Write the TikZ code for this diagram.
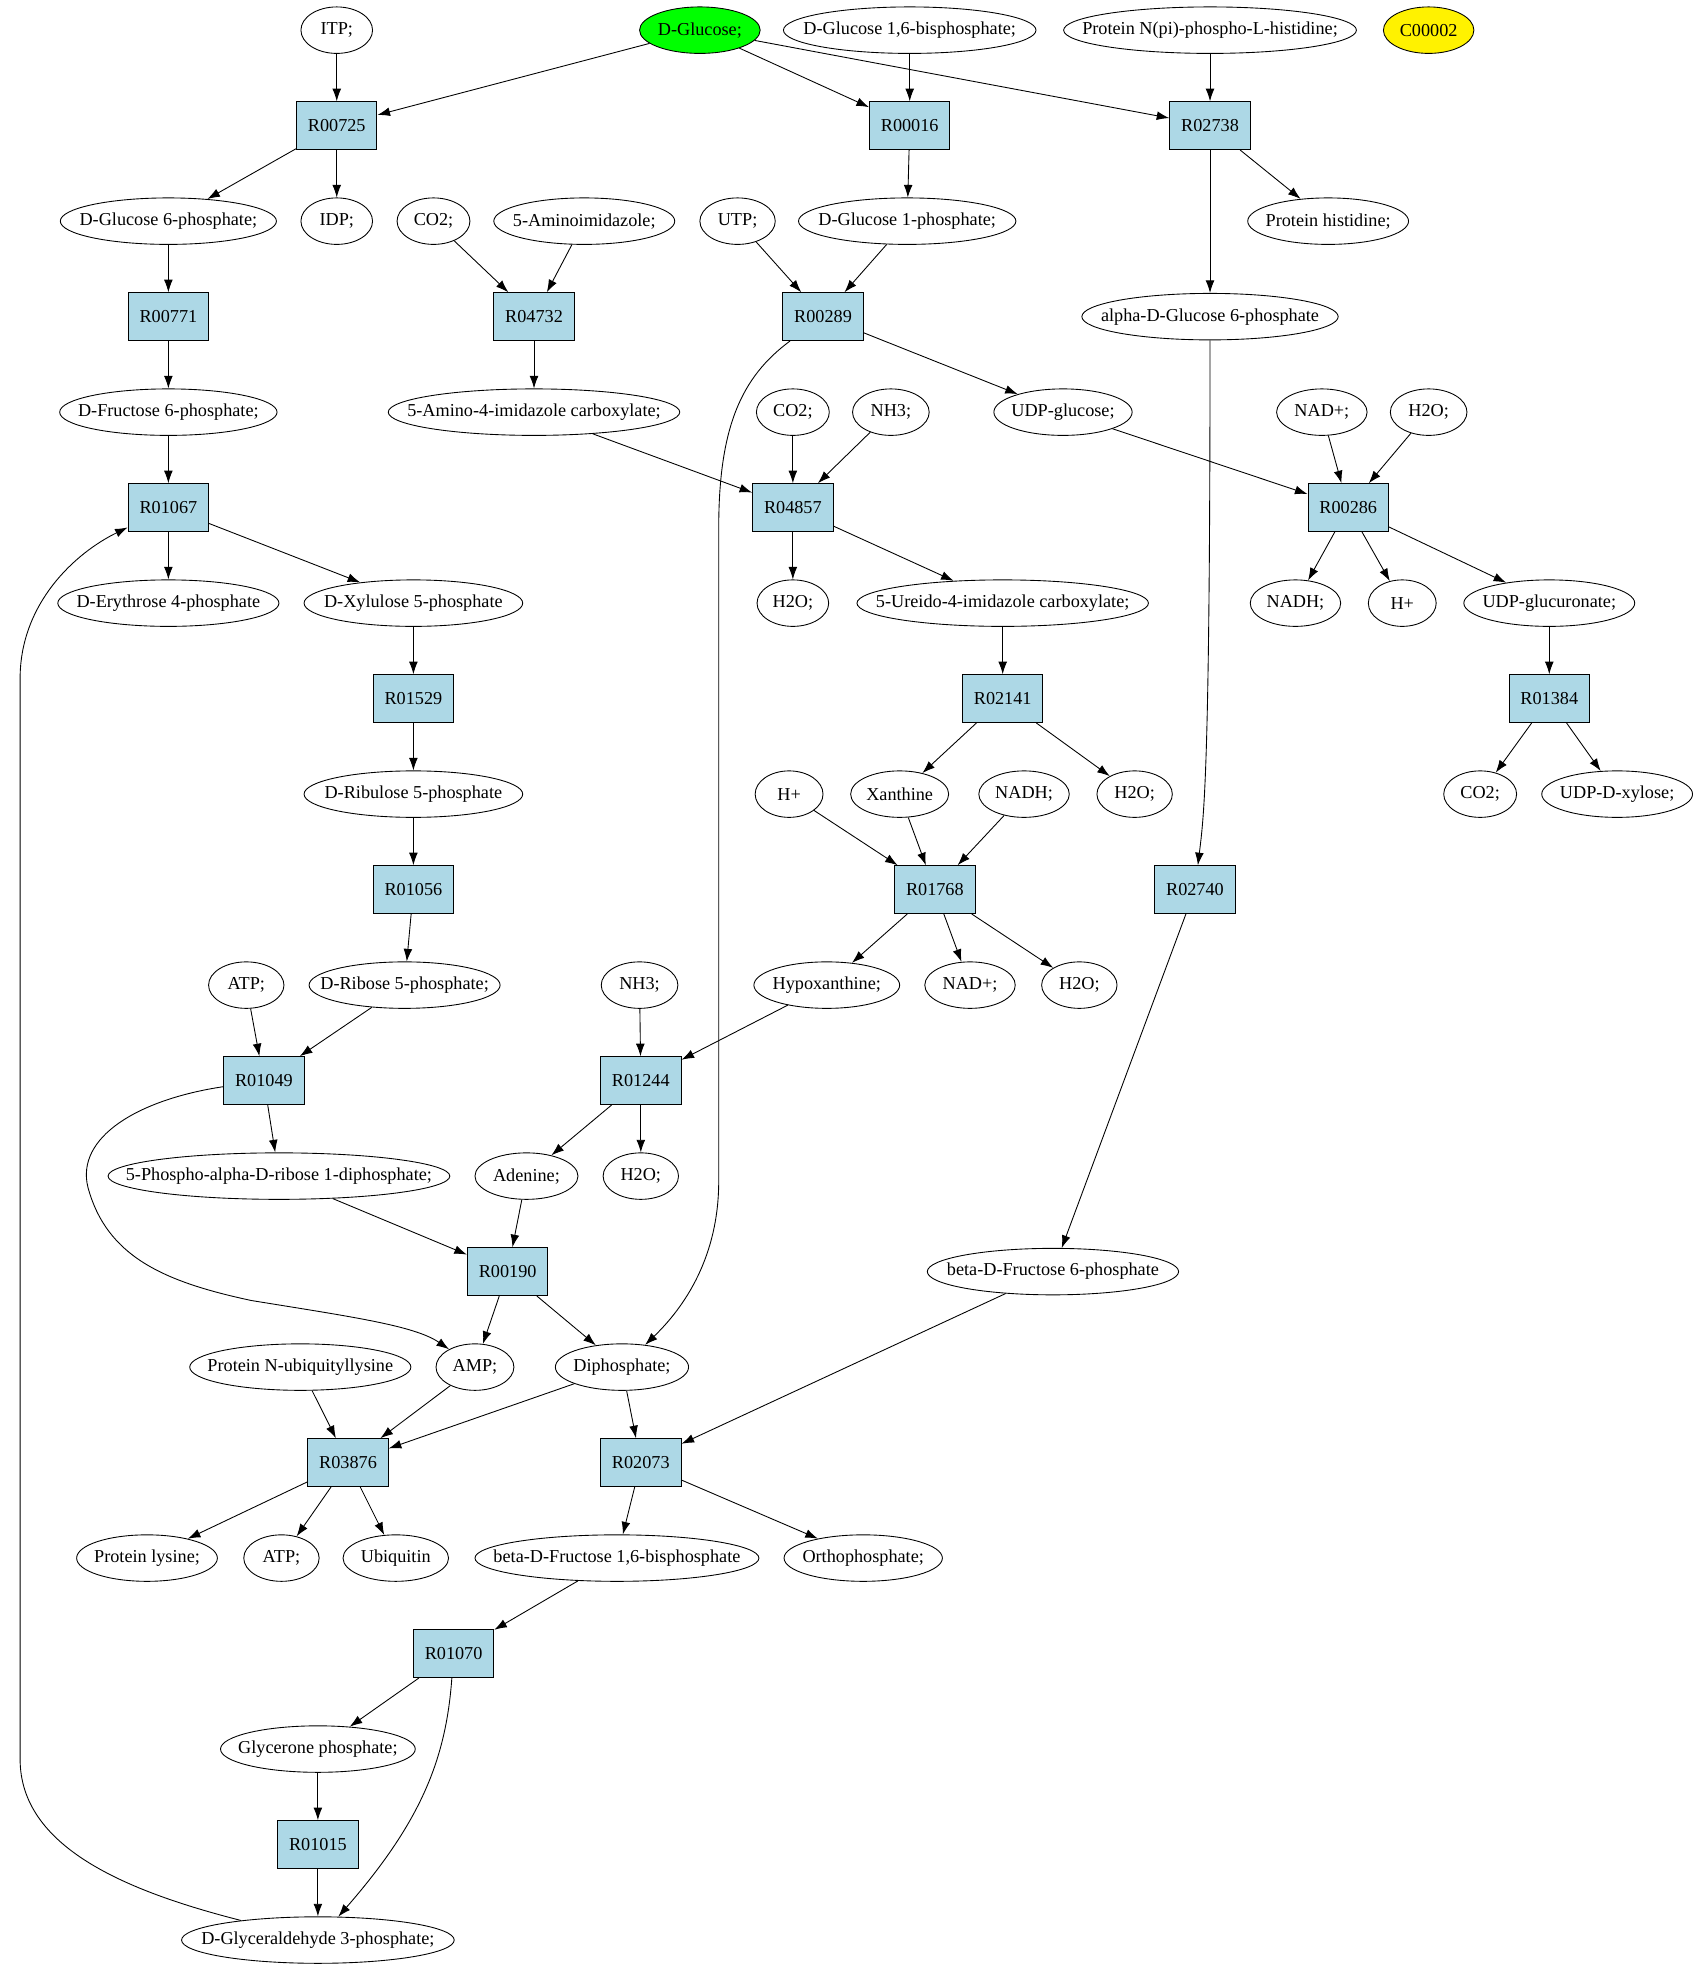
\documentclass[tikz,border=0pt]{standalone}
\usepackage{fontspec}
\setmainfont{Liberation Serif}
\usetikzlibrary{arrows.meta, shapes.geometric}
\definecolor{rxnblue}{RGB}{173, 216, 230}
\tikzset{>={Latex[length=10pt, width=7pt]}}
\tikzset{rxn/.style = {draw, fill = rxnblue, line width = 0.8, minimum width = 64, minimum height = 38, inner sep = 0, font = \fontsize{14.5}{17}\selectfont},
cpd/.style = {draw, ellipse, line width = 0.7, minimum height = 37, inner xsep = -200pt, inner ysep = 0, font = \fontsize{14.5}{17}\selectfont}}
\begin{document}
\begin{tikzpicture}[x = 1pt, y = -1pt]
\useasboundingbox (0, 0) rectangle (1357, 1575);
% row 1
\node[cpd, minimum width = 57] (itp) at (268, 24) {ITP;};
\node[cpd, minimum width = 96, fill = green] (glc) at (557, 24) {D-Glucose;};
\node[cpd, minimum width = 201] (glcbp) at (724, 24) {D-Glucose 1,6-bisphosphate;};
\node[cpd, minimum width = 233] (phis) at (963, 24) {Protein N(pi)-phospho-L-histidine;};
\node[cpd, minimum width = 72, fill = yellow] (cmark) at (1137, 24) {C00002};
\node[rxn] (r00725) at (268, 100) {R00725};
\node[rxn] (r00016) at (724, 100) {R00016};
\node[rxn] (r02738) at (963, 100) {R02738};
% row 2
\node[cpd, minimum width = 172] (g6p) at (134, 176) {D-Glucose 6-phosphate;};
\node[cpd, minimum width = 57] (idp) at (268, 176) {IDP;};
\node[cpd, minimum width = 58] (co2a) at (345, 176) {CO2;};
\node[cpd, minimum width = 144] (aimid) at (465, 176) {5-Aminoimidazole;};
\node[cpd, minimum width = 60] (utp) at (587, 176) {UTP;};
\node[cpd, minimum width = 173] (g1p) at (722, 176) {D-Glucose 1-phosphate;};
\node[cpd, minimum width = 128] (prohis) at (1057, 176) {Protein histidine;};
\node[rxn] (r00771) at (134, 252) {R00771};
\node[rxn] (r04732) at (425, 252) {R04732};
\node[rxn] (r00289) at (655, 252) {R00289};
\node[cpd, minimum width = 204] (ag6p) at (963, 252) {alpha-D-Glucose 6-phosphate};
% row 3
\node[cpd, minimum width = 173] (f6p) at (134, 328) {D-Fructose 6-phosphate;};
\node[cpd, minimum width = 232] (aicarb) at (425, 328) {5-Amino-4-imidazole carboxylate;};
\node[cpd, minimum width = 58] (co2b) at (631, 328) {CO2;};
\node[cpd, minimum width = 61] (nh3a) at (709, 328) {NH3;};
\node[cpd, minimum width = 110] (udpglc) at (846, 328) {UDP-glucose;};
\node[cpd, minimum width = 72] (nada) at (1052, 328) {NAD+;};
\node[cpd, minimum width = 61] (h2oa) at (1137, 328) {H2O;};
\node[rxn] (r01067) at (134, 404) {R01067};
\node[rxn] (r04857) at (631, 404) {R04857};
\node[rxn] (r00286) at (1073, 404) {R00286};
% row 4
\node[cpd, minimum width = 176] (e4p) at (134, 480) {D-Erythrose 4-phosphate};
\node[cpd, minimum width = 174] (xu5p) at (329, 480) {D-Xylulose 5-phosphate};
\node[cpd, minimum width = 57] (h2ob) at (631, 480) {H2O;};
\node[cpd, minimum width = 232] (ureido) at (798, 480) {5-Ureido-4-imidazole carboxylate;};
\node[cpd, minimum width = 72] (nadha) at (1031, 480) {NADH;};
\node[cpd, minimum width = 54] (hpa) at (1116, 480) {H+};
\node[cpd, minimum width = 136] (udpgca) at (1233, 480) {UDP-glucuronate;};
\node[rxn] (r01529) at (329, 556) {R01529};
\node[rxn] (r02141) at (798, 556) {R02141};
\node[rxn] (r01384) at (1233, 556) {R01384};
% row 5
\node[cpd, minimum width = 174] (ru5p) at (329, 632) {D-Ribulose 5-phosphate};
\node[cpd, minimum width = 54] (hpb) at (628, 632) {H+};
\node[cpd, minimum width = 78] (xan) at (716, 632) {Xanthine};
\node[cpd, minimum width = 72] (nadhb) at (815, 632) {NADH;};
\node[cpd, minimum width = 60] (h2oc) at (903, 632) {H2O;};
\node[cpd, minimum width = 58] (co2c) at (1178, 632) {CO2;};
\node[cpd, minimum width = 120] (udpxyl) at (1287, 632) {UDP-D-xylose;};
\node[rxn] (r01056) at (329, 708) {R01056};
\node[rxn] (r01768) at (744, 708) {R01768};
\node[rxn] (r02740) at (951, 708) {R02740};
% row 6
\node[cpd, minimum width = 60] (atpa) at (196, 784) {ATP;};
\node[cpd, minimum width = 152] (r5p) at (322, 784) {D-Ribose 5-phosphate;};
\node[cpd, minimum width = 61] (nh3b) at (509, 784) {NH3;};
\node[cpd, minimum width = 116] (hypox) at (658, 784) {Hypoxanthine;};
\node[cpd, minimum width = 72] (nadb) at (772, 784) {NAD+;};
\node[cpd, minimum width = 60] (h2od) at (859, 784) {H2O;};
\node[rxn] (r01049) at (210, 860) {R01049};
\node[rxn] (r01244) at (510, 860) {R01244};
% row 7
\node[cpd, minimum width = 272] (prpp) at (222, 936) {5-Phospho-alpha-D-ribose 1-diphosphate;};
\node[cpd, minimum width = 82] (ade) at (419, 936) {Adenine;};
\node[cpd, minimum width = 60] (h2oe) at (510, 936) {H2O;};
\node[rxn] (r00190) at (404, 1012) {R00190};
\node[cpd, minimum width = 200] (bf6p) at (838, 1012) {beta-D-Fructose 6-phosphate};
% row 8
\node[cpd, minimum width = 176] (ubilys) at (239, 1088) {Protein N-ubiquityllysine};
\node[cpd, minimum width = 62] (amp) at (378, 1088) {AMP;};
\node[cpd, minimum width = 106] (ppi) at (495, 1088) {Diphosphate;};
\node[rxn] (r03876) at (277, 1164) {R03876};
\node[rxn] (r02073) at (510, 1164) {R02073};
% row 9
\node[cpd, minimum width = 112] (lys) at (117, 1240) {Protein lysine;};
\node[cpd, minimum width = 60] (atpb) at (224, 1240) {ATP;};
\node[cpd, minimum width = 84] (ubq) at (315, 1240) {Ubiquitin};
\node[cpd, minimum width = 226] (fbp) at (491, 1240) {beta-D-Fructose 1,6-bisphosphate};
\node[cpd, minimum width = 126] (pi) at (687, 1240) {Orthophosphate;};
\node[rxn] (r01070) at (361, 1316) {R01070};
\node[cpd, minimum width = 155] (dhap) at (253, 1392) {Glycerone phosphate;};
\node[rxn] (r01015) at (253, 1468) {R01015};
\node[cpd, minimum width = 217] (gap) at (253, 1544) {D-Glyceraldehyde 3-phosphate;};
% edges
\begin{scope}[->, line width = 0.7]
\draw (itp) -- (r00725);
\draw (glc) -- (r00725);
\draw (glc) -- (r00016);
\draw (glc) -- (r02738);
\draw (glcbp) -- (r00016);
\draw (phis) -- (r02738);
\draw (r00725) -- (g6p);
\draw (r00725) -- (idp);
\draw (r00016) -- (g1p);
\draw (r02738) -- (prohis);
\draw (r02738) -- (ag6p);
\draw (g6p) -- (r00771);
\draw (co2a) -- (r04732);
\draw (aimid) -- (r04732);
\draw (utp) -- (r00289);
\draw (g1p) -- (r00289);
\draw (r00771) -- (f6p);
\draw (r04732) -- (aicarb);
\draw (r00289) -- (udpglc);
\draw (r00289) .. controls (590, 300) and (572, 340) .. (572, 420) -- (572, 940)
  .. controls (572, 1000) and (545, 1040) .. (ppi);
\draw (ag6p) .. controls (963, 620) and (958, 650) .. (r02740);
\draw (f6p) -- (r01067);
\draw (aicarb) -- (r04857);
\draw (co2b) -- (r04857);
\draw (nh3a) -- (r04857);
\draw (udpglc) -- (r00286);
\draw (nada) -- (r00286);
\draw (h2oa) -- (r00286);
\draw (r01067) -- (e4p);
\draw (r01067) -- (xu5p);
\draw (r04857) -- (h2ob);
\draw (r04857) -- (ureido);
\draw (r00286) -- (nadha);
\draw (r00286) -- (hpa);
\draw (r00286) -- (udpgca);
\draw (xu5p) -- (r01529);
\draw (ureido) -- (r02141);
\draw (udpgca) -- (r01384);
\draw (r01529) -- (ru5p);
\draw (r02141) -- (xan);
\draw (r02141) -- (h2oc);
\draw (r01384) -- (co2c);
\draw (r01384) -- (udpxyl);
\draw (ru5p) -- (r01056);
\draw (hpb) -- (r01768);
\draw (xan) -- (r01768);
\draw (nadhb) -- (r01768);
\draw (r01056) -- (r5p);
\draw (r01768) -- (hypox);
\draw (r01768) -- (nadb);
\draw (r01768) -- (h2od);
\draw (r02740) -- (bf6p);
\draw (atpa) -- (r01049);
\draw (r5p) -- (r01049);
\draw (nh3b) -- (r01244);
\draw (hypox) -- (r01244);
\draw (r01049) -- (prpp);
\draw (r01049) .. controls (110, 875) and (60, 905) .. (70, 945)
  .. controls (85, 1000) and (130, 1020) .. (200, 1035)
  .. controls (280, 1048) and (330, 1055) .. (amp);
\draw (r01244) -- (ade);
\draw (r01244) -- (h2oe);
\draw (prpp) -- (r00190);
\draw (ade) -- (r00190);
\draw (r00190) -- (amp);
\draw (r00190) -- (ppi);
\draw (bf6p) -- (r02073);
\draw (ubilys) -- (r03876);
\draw (amp) -- (r03876);
\draw (ppi) -- (r03876);
\draw (ppi) -- (r02073);
\draw (r03876) -- (lys);
\draw (r03876) -- (atpb);
\draw (r03876) -- (ubq);
\draw (r02073) -- (fbp);
\draw (r02073) -- (pi);
\draw (fbp) -- (r01070);
\draw (r01070) -- (dhap);
\draw (r01070) .. controls (355, 1400) and (335, 1450) .. (gap);
\draw (dhap) -- (r01015);
\draw (r01015) -- (gap);
\draw (gap) .. controls (100, 1505) and (16, 1470) .. (16, 1400) -- (16, 540)
  .. controls (16, 480) and (60, 440) .. (r01067);
\end{scope}
\end{tikzpicture}
\end{document}
